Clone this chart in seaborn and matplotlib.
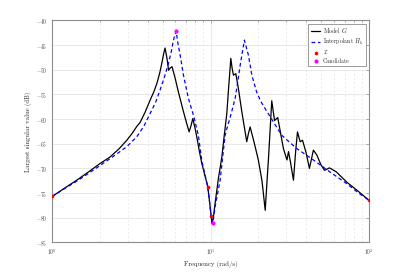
import numpy as np
import pandas as pd
import seaborn as sns
import matplotlib.pyplot as plt
from matplotlib.ticker import LogLocator, NullFormatter

# Model G
freq_g = [1.0, 1.2, 1.43, 1.7, 2.01, 2.32, 2.65, 2.96, 3.2, 3.42, 3.59, 3.85, 4.15,
          4.38, 4.58, 4.78, 4.92, 5.06, 5.16, 5.3, 5.43, 5.57, 5.71, 5.95, 6.26,
          6.74, 7.05, 7.32, 7.5, 7.72, 7.98, 8.18, 8.5, 8.8, 9.2, 9.6, 9.93,
          10.07, 10.2, 10.42, 10.67, 11.2, 11.77, 12.2, 12.65, 13.0, 13.41, 13.65,
          13.93, 14.42, 15.0, 15.73, 16.9, 17.3, 17.75, 18.8, 20.0, 21.1, 22.1,
          22.6, 23.2, 23.8, 24.3, 25.3, 26.5, 27.5, 28.8, 30.3, 31.0, 32.0, 33.3,
          34.4, 35.3, 36.7, 38.0, 40.0, 42.0, 44.5, 46.8, 49.5, 52.3, 56.2, 62.0,
          72.3, 85.0, 100.0]
mag_g = [-75.7, -74.0, -72.4, -70.7, -69.0, -67.7, -66.0, -64.3, -62.9, -61.5, -60.7, -58.7, -56.2,
         -54.5, -52.8, -50.6, -48.7, -46.7, -45.6, -47.6, -50.1, -49.6, -49.4, -51.5, -54.5,
         -58.5, -60.8, -62.6, -61.5, -59.9, -61.9, -63.6, -66.6, -69.0, -71.4, -73.75, -77.8,
         -79.6, -81.2, -79.8, -77.1, -72.0, -67.7, -63.2, -58.9, -53.5, -47.7, -49.6,
         -51.1, -50.8, -54.0, -58.5, -64.6, -63.0, -61.6, -64.7, -68.3, -72.6, -78.5,
         -73.5, -67.7, -61.5, -56.3, -60.3, -59.7, -62.5, -66.0, -68.3, -66.6, -69.0, -72.4,
         -66.5, -62.6, -64.6, -64.3, -66.8, -70.0, -66.3, -67.3, -69.2, -70.4, -69.9, -70.7,
         -72.8, -74.6, -76.5]

# Interpolant H_k
freq_h = [1.0, 1.2, 1.43, 1.7, 2.01, 2.45, 2.96, 3.42, 3.8, 4.15, 4.5, 4.8, 5.1,
          5.42, 5.65, 5.83, 5.96, 6.06, 6.2, 6.42, 6.74, 7.24, 7.79, 8.37, 8.8,
          9.2, 9.6, 10.07, 10.33, 10.67, 11.48, 12.34, 12.65, 13.4, 14.28, 14.8,
          15.36, 15.9, 16.34, 16.8, 17.3, 18.2, 19.5, 20.7, 22.1, 24.9, 28.1, 35.0,
          44.5, 57.0, 72.3, 85.0, 100.0]
mag_h = [-75.7, -74.1, -72.6, -71.0, -69.4, -67.5, -65.6, -63.6, -61.4, -58.9, -56.6, -54.1, -51.6,
         -48.7, -46.3, -44.0, -42.9, -42.2, -44.4, -47.0, -51.1, -55.8, -59.2, -63.3, -68.5,
         -71.2, -73.75, -79.6, -81.1, -77.8, -72.4, -63.3, -62.0, -59.2, -55.8, -52.6,
         -49.1, -46.2, -44.0, -45.5, -47.0, -51.1, -54.5, -56.4, -57.9, -60.6, -63.3, -66.0,
         -68.3, -70.8, -73.1, -74.9, -76.5]

# interpolation points and candidates
freq_i = [1.0, 9.6, 10.07, 100.0]
mag_i = [-75.7, -73.75, -79.6, -76.5]
freq_c = [6.06, 10.33]
mag_c = [-42.2, -81.1]

sns.set_style("whitegrid")
plt.rcParams['font.family'] = 'serif'
plt.rcParams['font.serif'] = ['cmr10']
plt.rcParams['mathtext.fontset'] = 'cm'
plt.rcParams['axes.unicode_minus'] = False
plt.rcParams['axes.formatter.use_mathtext'] = True

fig = plt.figure(figsize=(4.07, 2.72), dpi=100)
ax = fig.add_axes([0.128, 0.109, 0.779, 0.816])

sns.lineplot(x=freq_g, y=mag_g, color='black', lw=0.9, sort=False,
             estimator=None, label='Model $G$', ax=ax)
sns.lineplot(x=freq_h, y=mag_h, color='#0000ff', lw=0.9, sort=False,
             estimator=None, label='Interpolant $H_k$', ax=ax)
ax.lines[-1].set_linestyle((0, (3, 2.2)))
sns.scatterplot(x=freq_i, y=mag_i, color='red', s=7, linewidth=0,
                label=r'$\mathcal{I}$', ax=ax, zorder=5)
sns.scatterplot(x=freq_c, y=mag_c, color='#ff00ff', s=9, linewidth=0,
                label='Candidate', ax=ax, zorder=5)

ax.set_xscale('log')
ax.set_xlim(1, 100)
ax.set_ylim(-85, -40)
ax.set_yticks(np.arange(-85, -39, 5))
ax.xaxis.set_minor_locator(LogLocator(base=10, subs=np.arange(2, 10)))
ax.xaxis.set_minor_formatter(NullFormatter())

ax.grid(True, which='major', color='#e4e4e4', lw=0.6, ls='-')
ax.grid(True, which='minor', axis='x', color='#e4e4e4', lw=0.5, ls=(0, (3, 3)))
for s in ax.spines.values():
    s.set_color('#8c8c8c')
    s.set_linewidth(0.8)
ax.tick_params(which='both', direction='in', top=True, right=True,
               colors='#8c8c8c', labelcolor='#404040', labelsize=3.9,
               length=2.5, width=0.5)
ax.tick_params(which='minor', length=1.5)

ax.set_xlabel('Frequency (rad/s)', fontsize=4.8, labelpad=3)
ax.set_ylabel('Largest singular value (dB)', fontsize=4.8, labelpad=3)

leg = ax.legend(loc='upper right', fontsize=4.3, frameon=True, fancybox=False,
                borderaxespad=0.6, handlelength=1.6, borderpad=0.4,
                labelspacing=0.25, handletextpad=0.4)
leg.get_frame().set_edgecolor('#8c8c8c')
leg.get_frame().set_linewidth(0.6)
leg.get_frame().set_alpha(1)

fig.savefig('out.png', dpi=100)
